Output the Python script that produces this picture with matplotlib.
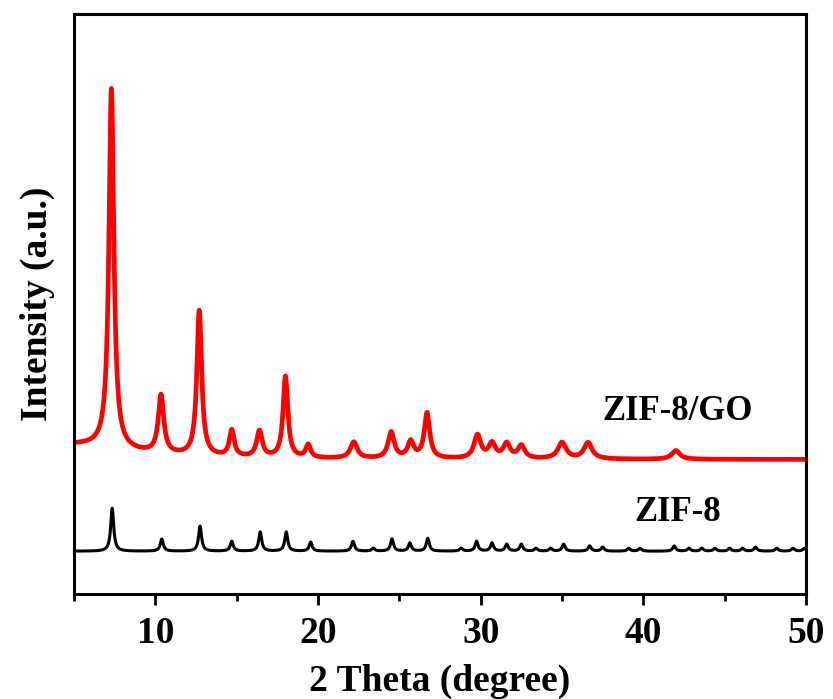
import numpy as np
import matplotlib
matplotlib.use("Agg")
import matplotlib.pyplot as plt
from matplotlib.ticker import MultipleLocator

# peak tables: position (2theta), height (a.u.), FWHM (deg)
zif8_pos = [7.35, 10.4, 12.75, 14.7, 16.45, 18.05, 19.55, 22.15, 23.4, 24.55,
            25.65, 26.75, 28.8, 29.75, 30.7, 31.6, 32.5, 33.4, 34.3, 35.1,
            36.7, 37.5, 39.1, 39.8, 41.9, 42.8, 43.6, 44.4, 45.3, 46.1,
            46.9, 48.2, 49.2, 49.9]
zif8_height = [7.4, 2.1, 4.3, 1.7, 3.3, 3.3, 1.55, 1.7, 0.5, 2.1,
               1.4, 2.2, 0.5, 1.7, 1.4, 1.2, 1.2, 0.5, 0.5, 1.2,
               0.9, 0.7, 0.5, 0.5, 0.9, 0.5, 0.5, 0.5, 0.5, 0.5,
               0.7, 0.5, 0.5, 0.5]
zif8_width = 0.22
zif8_base = 7.4

go_pos = [5.0, 7.3, 10.35, 12.7, 14.7, 16.4, 18.0, 19.4, 22.2, 24.5,
          25.7, 26.7, 29.8, 30.7, 31.6, 32.5, 35.0, 36.6, 42.0]
go_height = [2.5, 62, 10, 25, 4.5, 4.5, 14, 2.2, 2.8, 4.5,
             2.8, 7.8, 4, 2.5, 2.5, 2.2, 2.8, 2.8, 1.5]
go_width = [8.0, 0.36, 0.4, 0.35, 0.35, 0.4, 0.35, 0.35, 0.5, 0.45,
            0.45, 0.4, 0.5, 0.5, 0.5, 0.5, 0.6, 0.6, 0.6]
go_base = 23.2

two_theta = np.linspace(5, 50, 4500)


def pattern(pos, height, width, base):
    width = np.broadcast_to(width, len(pos))
    y = np.full_like(two_theta, base)
    for p, h, w in zip(pos, height, width):
        y += h / (1 + ((two_theta - p) / (w / 2)) ** 2)
    return y


plt.rcParams['font.family'] = ['Liberation Serif', 'DejaVu Serif']
plt.rcParams['font.weight'] = 'bold'

fig = plt.figure(figsize=(8.33, 6.99), dpi=100)
ax = fig.add_axes([0.0888, 0.150, 0.8788, 0.830])

ax.plot(two_theta, pattern(go_pos, go_height, go_width, go_base), color='#ff0000', lw=3.4)
ax.plot(two_theta, pattern(zif8_pos, zif8_height, zif8_width, zif8_base), color='black', lw=2.2)

ax.text(42.1, 31.4, "ZIF-8/GO", fontsize=25, fontweight='bold', ha='center', va='center')
ax.text(42.1, 14.1, "ZIF-8", fontsize=25, fontweight='bold', ha='center', va='center')

ax.set_xlim(5, 50)
ax.set_ylim(0, 100)
ax.set_yticks([])
ax.xaxis.set_major_locator(MultipleLocator(10))
ax.xaxis.set_minor_locator(MultipleLocator(5))
ax.tick_params(axis='x', which='major', length=8, width=2, labelsize=27, pad=8)
ax.tick_params(axis='x', which='minor', length=5, width=2)
for s in ax.spines.values():
    s.set_linewidth(2.2)

ax.set_xlabel("2 Theta (degree)", fontsize=27, fontweight='bold', labelpad=9)
ax.set_ylabel("Intensity (a.u.)", fontsize=27, fontweight='bold', labelpad=14)

fig.savefig("out.png", dpi=100)
